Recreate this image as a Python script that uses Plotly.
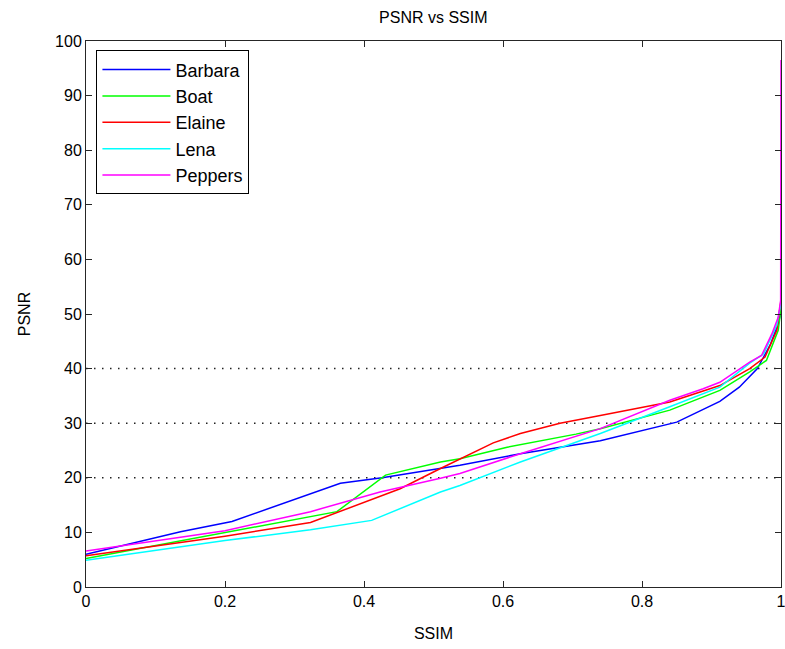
import plotly.graph_objects as go

# ---- data ----
barbara_ssim = [0.0, 0.136, 0.21, 0.308, 0.366, 0.426, 0.51, 0.538, 0.625, 0.74, 0.85, 0.912, 0.94, 0.966, 0.985, 0.996, 1.0]
barbara_psnr = [6.0, 10.1, 12.0, 16.4, 19.0, 20.0, 21.7, 22.3, 24.4, 26.8, 30.2, 34.0, 36.6, 40.0, 44.5, 48.2, 50.5]

boat_ssim = [0.0, 0.2, 0.323, 0.361, 0.431, 0.51, 0.538, 0.606, 0.705, 0.74, 0.84, 0.912, 0.955, 0.979, 0.996, 1.0]
boat_psnr = [5.2, 10.0, 12.9, 13.8, 20.5, 22.9, 23.5, 25.6, 28.0, 29.0, 32.4, 36.0, 39.4, 41.5, 47.0, 51.0]

elaine_ssim = [0.0, 0.2, 0.323, 0.352, 0.452, 0.51, 0.586, 0.625, 0.682, 0.74, 0.84, 0.912, 0.955, 0.977, 0.994, 1.0]
elaine_psnr = [5.7, 9.3, 11.8, 13.2, 18.0, 21.7, 26.4, 28.1, 30.0, 31.4, 33.9, 36.9, 40.0, 42.1, 47.0, 52.5]

lena_ssim = [0.0, 0.2, 0.323, 0.411, 0.51, 0.538, 0.625, 0.74, 0.84, 0.912, 0.955, 0.975, 0.994, 1.0]
lena_psnr = [4.9, 8.5, 10.5, 12.2, 17.4, 18.6, 22.9, 28.1, 33.0, 36.6, 41.0, 42.7, 48.0, 52.0]

peppers_ssim = [0.0, 0.2, 0.323, 0.423, 0.51, 0.538, 0.625, 0.711, 0.74, 0.84, 0.888, 0.912, 0.955, 0.972, 0.987, 0.996, 0.9995, 1.0]
peppers_psnr = [6.6, 10.3, 13.8, 17.4, 19.9, 20.8, 24.4, 27.8, 29.0, 34.2, 36.3, 37.5, 41.2, 42.4, 46.4, 49.4, 52.5, 96.5]

ref_levels = [20, 30, 40]
x_ticks = [0, 0.2, 0.4, 0.6, 0.8, 1]
x_tick_labels = ["0", "0.2", "0.4", "0.6", "0.8", "1"]
y_ticks = [0, 10, 20, 30, 40, 50, 60, 70, 80, 90, 100]

series = [
    ("Barbara", barbara_ssim, barbara_psnr, "#0000FF"),
    ("Boat", boat_ssim, boat_psnr, "#00FF00"),
    ("Elaine", elaine_ssim, elaine_psnr, "#FF0000"),
    ("Lena", lena_ssim, lena_psnr, "#00FFFF"),
    ("Peppers", peppers_ssim, peppers_psnr, "#FF00FF"),
]

FONT = "Liberation Sans, Arial, sans-serif"

fig = go.Figure()

for lvl in ref_levels:
    fig.add_trace(go.Scatter(
        x=[0, 1], y=[lvl, lvl], mode="lines", showlegend=False, hoverinfo="skip",
        line=dict(color="#222222", width=1.5, dash="1.5px,6.5px"),
    ))

for name, xs, ys, color in series:
    fig.add_trace(go.Scatter(
        x=xs, y=ys, mode="lines", name=name,
        line=dict(color=color, width=1.5),
    ))

axis_common = dict(
    showgrid=False, zeroline=False, showline=True, linecolor="#262626", linewidth=1,
    mirror="ticks", ticks="inside", ticklen=6, tickcolor="#262626", tickwidth=1,
    tickfont=dict(family=FONT, size=16, color="#000000"),
    ticklabeloverflow="allow", automargin=False,
)

fig.update_layout(
    width=785, height=649,
    margin=dict(l=86, r=4, t=41, b=62),
    paper_bgcolor="white", plot_bgcolor="white",
    title=dict(text="PSNR vs SSIM", x=0.552, xanchor="center", y=0.973, yanchor="middle",
               font=dict(family=FONT, size=16, color="#000000")),
    xaxis=dict(range=[0, 1], tickvals=x_ticks, ticktext=x_tick_labels,
               title=dict(text="SSIM", font=dict(family=FONT, size=16, color="#000000"), standoff=18),
               **axis_common),
    yaxis=dict(range=[0, 100], tickvals=y_ticks,
               title=dict(text="PSNR", font=dict(family=FONT, size=16, color="#000000"), standoff=20),
               **axis_common),
    legend=dict(x=0.015, y=0.983, xanchor="left", yanchor="top",
                bgcolor="white", bordercolor="#000000", borderwidth=1,
                font=dict(family=FONT, size=18, color="#000000"),
                itemwidth=68, tracegroupgap=0),
    showlegend=True,
)

fig.write_html("out.html")
